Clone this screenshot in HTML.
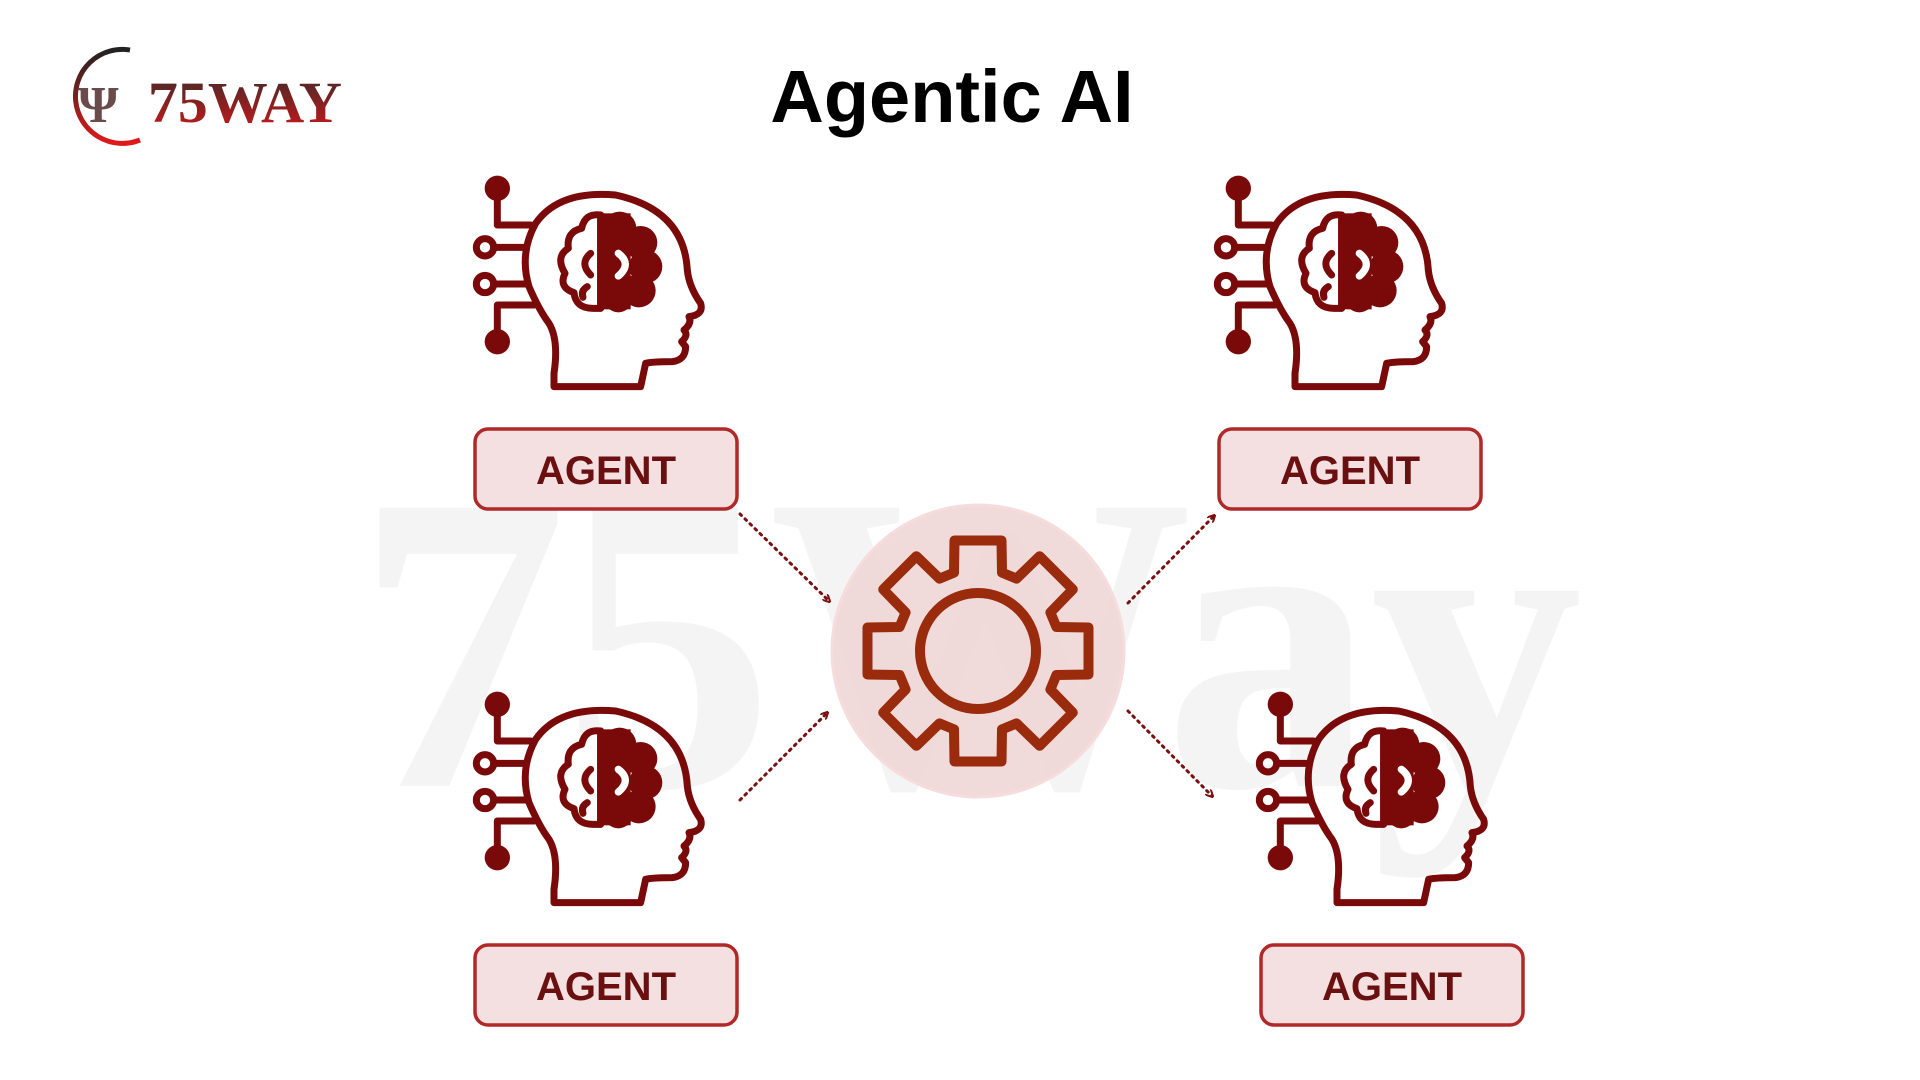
<!DOCTYPE html>
<html><head><meta charset="utf-8"><style>
html,body{margin:0;padding:0;background:#fff;width:1920px;height:1080px;overflow:hidden}
svg{display:block}
</style></head><body>
<svg width="1920" height="1080" viewBox="0 0 1920 1080" xmlns="http://www.w3.org/2000/svg">
<defs>
<linearGradient id="lg" x1="0" y1="0" x2="0" y2="1">
<stop offset="0" stop-color="#3a2a2a"/><stop offset="1" stop-color="#d01818"/></linearGradient>
<linearGradient id="arc" x1="0" y1="0" x2="0" y2="1">
<stop offset="0" stop-color="#222"/><stop offset="1" stop-color="#e01a1a"/></linearGradient>
<marker id="ah" markerWidth="8" markerHeight="8" refX="6" refY="4" orient="auto" markerUnits="userSpaceOnUse">
<path d="M0,0 L8,4 L0,8" fill="none" stroke="#7a1010" stroke-width="2"/></marker>
<g id="head" fill="none" stroke="#7a0a0a" stroke-width="21" stroke-linejoin="round" stroke-linecap="round">
<circle cx="115" cy="85" r="38" fill="#7a0a0a" stroke="none"/>
<circle cx="115" cy="545" r="38" fill="#7a0a0a" stroke="none"/>
<path d="M115,85 L115,195 L215,195"/>
<path d="M115,545 L115,435 L225,435"/>
<circle cx="78" cy="262" r="26"/><path d="M104,262 L200,262"/>
<circle cx="78" cy="372" r="26"/><path d="M104,372 L200,372"/>
<path d="M285,680 L545,680 L560,610 Q580,605 640,605 Q680,600 680,560 L668,545 Q690,525 675,510 Q700,490 690,470 Q735,465 725,430 Q690,380 685,330 Q675,150 470,105 Q300,90 230,190 Q180,280 210,380 Q240,450 270,490 Q300,540 285,640 Z"/>
<g fill="#7a0a0a" stroke="none">
<rect x="425" y="160" width="90" height="288"/>
<circle cx="482" cy="205" r="50"/><circle cx="545" cy="248" r="50"/><circle cx="560" cy="320" r="50"/><circle cx="540" cy="392" r="50"/><circle cx="478" cy="412" r="45"/>
</g>
<path d="M478,280 Q520,312 478,348" stroke="#fff" stroke-width="22"/>
<path d="M425,165 Q378,158 368,205 Q322,215 328,265 Q288,290 318,340 Q298,382 345,398 Q350,445 402,445 L425,445 Z" fill="#fff"/>
<path d="M425,165 L425,445"/>
<path d="M395,280 Q360,310 395,345"/>
<path d="M385,380 Q365,392 372,412"/>
</g>
</defs>

<!-- watermark -->
<text x="966" y="786" text-anchor="middle" font-family="Liberation Serif, serif" font-weight="bold" font-size="425" fill="#f4f4f4" letter-spacing="-6">75Way</text>

<!-- logo -->
<path d="M130,50 A47,47 0 1 0 140,140" fill="none" stroke="url(#arc)" stroke-width="5"/>
<text x="78" y="122" font-family="Liberation Serif, serif" font-weight="bold" font-size="52" fill="#6a4a4a">Ψ</text>
<text x="148" y="122" font-family="Liberation Serif, serif" font-weight="bold" font-size="58" fill="url(#lg)" textLength="194" lengthAdjust="spacingAndGlyphs">75WAY</text>

<!-- title -->
<text x="952" y="122" text-anchor="middle" font-family="Liberation Sans, sans-serif" font-weight="bold" font-size="74" fill="#000">Agentic AI</text>

<!-- heads -->
<use href="#head" transform="translate(459,160) scale(0.3333)"/>
<use href="#head" transform="translate(1200,160) scale(0.3333)"/>
<use href="#head" transform="translate(459,676) scale(0.3333)"/>
<use href="#head" transform="translate(1242,676) scale(0.3333)"/>

<!-- agent boxes -->
<g font-family="Liberation Sans, sans-serif" font-weight="bold" font-size="40" fill="#6b1010" text-anchor="middle">
<rect x="475" y="429" width="262" height="80" rx="13" fill="#f5e0e1" stroke="#b02828" stroke-width="3.5"/>
<text x="606" y="484">AGENT</text>
<rect x="1219" y="429" width="262" height="80" rx="13" fill="#f5e0e1" stroke="#b02828" stroke-width="3.5"/>
<text x="1350" y="484">AGENT</text>
<rect x="475" y="945" width="262" height="80" rx="13" fill="#f5e0e1" stroke="#b02828" stroke-width="3.5"/>
<text x="606" y="1000">AGENT</text>
<rect x="1261" y="945" width="262" height="80" rx="13" fill="#f5e0e1" stroke="#b02828" stroke-width="3.5"/>
<text x="1392" y="1000">AGENT</text>
</g>

<!-- connectors -->
<g stroke="#7a1010" stroke-width="3" stroke-dasharray="2 5" fill="none" stroke-linecap="round">
<path d="M740,514 L829,601" marker-end="url(#ah)"/>
<path d="M740,800 L827,713" marker-end="url(#ah)"/>
<path d="M1128,603 L1214,516" marker-end="url(#ah)"/>
<path d="M1128,711 L1212,796" marker-end="url(#ah)"/>
</g>

<!-- gear -->
<circle cx="978" cy="651" r="146" fill="#efd3d3" fill-opacity="0.85" stroke="#f6dcdc" stroke-width="3"/>
<g transform="translate(978,651)" fill="none" stroke="#9a2b0c" stroke-width="10" stroke-linejoin="round">
<polygon points="-24,-78.4 -23.5,-110.5 23.5,-110.5 24,-78.4 38.5,-72.4 61.6,-94.8 94.8,-61.6 72.4,-38.5 78.4,-24 110.5,-23.5 110.5,23.5 78.4,24 72.4,38.5 94.8,61.6 61.6,94.8 38.5,72.4 24,78.4 23.5,110.5 -23.5,110.5 -24,78.4 -38.5,72.4 -61.6,94.8 -94.8,61.6 -72.4,38.5 -78.4,24 -110.5,23.5 -110.5,-23.5 -78.4,-24 -72.4,-38.5 -94.8,-61.6 -61.6,-94.8 -38.5,-72.4"/>
<circle cx="0" cy="0" r="58"/>
</g>
</svg>
</body></html>
